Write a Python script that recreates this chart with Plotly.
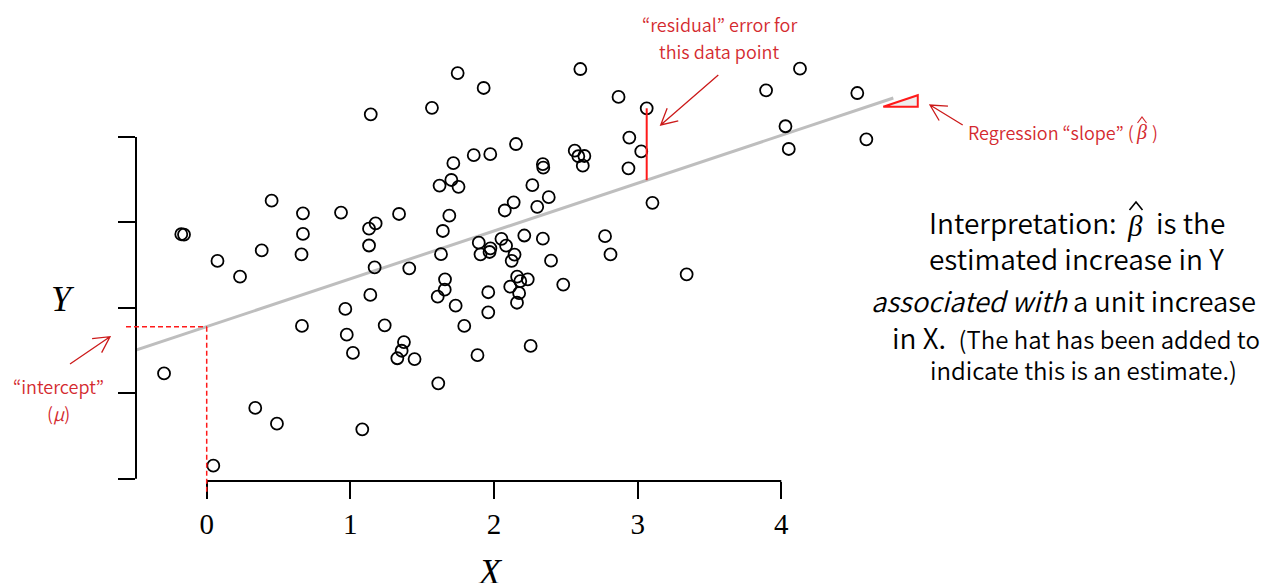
import math
import plotly.graph_objects as go

# ---------------- data ----------------
x_vals = [-0.297, -0.177, -0.158, 0.075, 0.232, 0.383, 0.452, 0.670, 0.670, 0.660,
          0.663, 0.935, 0.965, 0.975, 1.018, 1.130, 1.176, 1.130, 1.142, 1.169,
          1.139, 1.239, 1.339, 1.373, 1.357, 1.327, 1.410, 1.447, 0.046, 0.338,
          0.489, 1.083, 1.568, 1.608, 1.612, 1.621, 1.631, 1.644, 1.659, 1.657,
          1.689, 1.717, 1.703, 1.753, 1.733, 1.747, 1.793, 1.859, 1.885, 1.894,
          1.906, 1.928, 1.960, 1.960, 1.974, 1.975, 1.969, 2.052, 2.075, 2.084,
          2.113, 2.123, 2.143, 2.137, 2.153, 2.161, 2.160, 2.175, 2.183, 2.235,
          2.211, 2.255, 2.267, 2.301, 2.340, 2.343, 2.340, 2.381, 2.397, 2.482,
          2.562, 2.587, 2.629, 2.618, 2.601, 2.773, 2.811, 2.867, 2.936, 2.942,
          3.025, 3.063, 3.103, 3.341, 3.894, 4.029, 4.052, 4.130, 4.529, 4.592]
y_vals = [1.232, 2.862, 2.858, 2.549, 2.365, 2.672, 3.255, 3.107, 2.865, 2.625,
          1.788, 3.116, 1.987, 1.686, 1.472, 2.927, 2.988, 2.730, 4.266, 2.473,
          2.151, 1.796, 3.099, 1.600, 1.498, 1.410, 2.463, 1.401, 0.152, 0.828,
          0.644, 0.578, 4.342, 2.131, 1.117, 3.432, 2.628, 2.900, 2.334, 2.213,
          3.079, 3.694, 3.497, 3.417, 2.025, 4.749, 1.788, 3.787, 1.446, 2.763,
          2.627, 4.574, 2.183, 1.948, 3.799, 2.697, 2.654, 2.808, 3.140, 2.728,
          2.248, 2.551, 2.624, 3.236, 3.918, 2.365, 2.060, 2.172, 2.314, 2.334,
          2.847, 1.554, 3.436, 3.183, 3.682, 3.641, 2.810, 3.296, 2.552, 2.273,
          3.840, 3.775, 3.778, 3.664, 4.796, 2.839, 2.625, 4.469, 3.634, 3.994,
          3.831, 4.336, 3.230, 2.393, 4.547, 4.126, 3.860, 4.800, 4.515, 3.973]

x_ticks = [0, 1, 2, 3, 4]
x_tick_labels = ["0", "1", "2", "3", "4"]
y_ticks = [0, 1, 2, 3, 4]

intercept = 1.78
slope = 0.56
line_x_end = 4.78
residual_point = (3.063, 4.336)
slope_triangle_x = (4.71, 4.95)
slope_triangle_y0 = 4.355

# ---------------- layout geometry ----------------
W, H = 1280, 583
ML, MR, MT, MB = 136, 0, 0, 102
X_RANGE = [-0.4922, 7.4716]
Y_RANGE = [-0.0269, 5.604]
PW, PH = W - ML - MR, H - MT - MB


def P(px, py):
    """figure pixel -> paper coords"""
    return (px - ML) / PW, (H - MB - py) / PH


def dx2paper(x):
    return (x - X_RANGE[0]) / (X_RANGE[1] - X_RANGE[0])


def dy2paper(y):
    return (y - Y_RANGE[0]) / (Y_RANGE[1] - Y_RANGE[0])


RED_TXT = "#d42a2f"
RED_ARR = "#cc1a1a"
RED = "#ff1a1a"

fig = go.Figure()

# regression line
lx = [X_RANGE[0], line_x_end]
fig.add_trace(go.Scatter(x=lx, y=[intercept + slope * v for v in lx], mode="lines",
                         line=dict(color="#bebebe", width=3), hoverinfo="skip"))

# data points
fig.add_trace(go.Scatter(x=x_vals, y=y_vals, mode="markers",
                         marker=dict(symbol="circle-open", size=12, color="black",
                                     line=dict(width=1.8, color="black")),
                         hoverinfo="skip"))

shapes = []
# axis lines (R style: only between first and last tick)
shapes.append(dict(type="line", xref="paper", yref="y", x0=0, x1=0,
                   y0=y_ticks[0], y1=y_ticks[-1], line=dict(color="black", width=2)))
shapes.append(dict(type="line", xref="x", yref="paper", x0=x_ticks[0], x1=x_ticks[-1],
                   y0=0, y1=0, line=dict(color="black", width=2)))

# residual
rx, ry = residual_point
shapes.append(dict(type="line", xref="x", yref="y", x0=rx, x1=rx, y0=ry,
                   y1=intercept + slope * rx, line=dict(color=RED, width=2)))

# intercept dashed lines
shapes.append(dict(type="line", xref="x", yref="paper", x0=0, x1=0,
                   y0=dy2paper(intercept), y1=P(0, 493)[1],
                   line=dict(color=RED, width=1.5, dash="5px,3px")))
shapes.append(dict(type="line", xref="paper", yref="paper", x0=P(126, 0)[0],
                   x1=dx2paper(0), y0=dy2paper(intercept), y1=dy2paper(intercept),
                   line=dict(color=RED, width=1.5, dash="5px,3px")))

# slope triangle
tx0, tx1 = slope_triangle_x
ty1 = slope_triangle_y0 + slope * (tx1 - tx0)
shapes.append(dict(type="path", xref="x", yref="y",
                   path=f"M {tx0},{slope_triangle_y0} L {tx1},{slope_triangle_y0} L {tx1},{ty1} Z",
                   fillcolor="#eeeeee", line=dict(color=RED, width=2)))


def fp(p):
    q = P(*p)
    return f"{q[0]:.5f},{q[1]:.5f}"


def arrow(sx, sy, ex, ey, head=18, ang=28):
    ux, uy = ex - sx, ey - sy
    n = math.hypot(ux, uy)
    ux, uy = ux / n, uy / n
    pts = []
    for s in (1, -1):
        a = math.radians(ang * s)
        rx_ = ux * math.cos(a) - uy * math.sin(a)
        ry_ = ux * math.sin(a) + uy * math.cos(a)
        pts.append((ex - head * rx_, ey - head * ry_))
    path = f"M {fp((sx, sy))} L {fp((ex, ey))} M {fp(pts[0])} L {fp((ex, ey))} L {fp(pts[1])}"
    return dict(type="path", xref="paper", yref="paper", path=path,
                line=dict(color=RED_ARR, width=1.3))


def hat(cx, base_y, half_w, h, color, width):
    path = f"M {fp((cx - half_w, base_y))} L {fp((cx, base_y - h))} L {fp((cx + half_w, base_y))}"
    return dict(type="path", xref="paper", yref="paper", path=path,
                line=dict(color=color, width=width))


shapes.append(arrow(718.3, 75, 660.7, 125))
shapes.append(arrow(962.7, 125, 930, 105))
shapes.append(arrow(70, 364, 110, 336.7))

annotations = []
SANS = "Noto Sans CJK KR"
SERIF = "Liberation Serif"


def text(px, py, s, size, color="black", family=SANS, xanchor="center", weight=350):
    x, y = P(px, py)
    annotations.append(dict(x=x, y=y, xref="paper", yref="paper", text=s, showarrow=False,
                            xanchor=xanchor, yanchor="middle",
                            font=dict(size=size, color=color, family=family, weight=weight)))


text(63, 299, "<i>Y</i>", 36, family=SERIF, weight=400)
text(490, 572, "<i>X</i>", 36, family=SERIF, weight=400)

text(719, 24, "“residual” error for", 18, RED_TXT)
text(719, 51, "this data point", 18, RED_TXT)
text(966, 132, "Regression “slope” (", 18, RED_TXT, xanchor="left")
text(1141, 133, "<i>β</i>", 20, RED_TXT, family=SERIF, weight=400)
shapes.append(hat(1142, 123, 4.5, 6, RED_TXT, 1.2))
text(1150, 132, ")", 18, RED_TXT, xanchor="left")
text(58, 386, "“intercept”", 18, RED_TXT)
text(58, 413, "(<i>μ</i>)", 18, RED_TXT)

text(1119, 222, "Interpretation:", 28, xanchor="right")
text(1135, 226, "<i>β</i>", 29, family=SERIF, weight=400)
shapes.append(hat(1136, 210, 6.5, 8, "black", 1.6))
text(1154, 222, "is the", 28, xanchor="left")
text(1076, 258, "estimated increase in Y", 28)
text(1063, 300, "<i>associated with</i> a unit increase", 27.3)
text(1076, 337, "in X.&nbsp;&nbsp;<span style='font-size:24px'>(The hat has been added to</span>", 28)
text(1083, 369, "indicate this is an estimate.)", 24)

fig.update_layout(
    width=W, height=H, margin=dict(l=ML, r=MR, t=MT, b=MB, pad=0),
    paper_bgcolor="white", plot_bgcolor="white", showlegend=False,
    shapes=shapes, annotations=annotations,
    xaxis=dict(range=X_RANGE, tickvals=x_ticks, ticktext=x_tick_labels, ticks="outside",
               ticklen=17, tickwidth=2, tickcolor="black", showgrid=False, zeroline=False,
               showline=False, tickfont=dict(family=SERIF, size=29, color="black"),
               ticklabelstandoff=0),
    yaxis=dict(range=Y_RANGE, tickvals=y_ticks, showticklabels=False, ticks="outside",
               ticklen=17, tickwidth=2, tickcolor="black", showgrid=False, zeroline=False,
               showline=False),
)

fig.write_html("out.html", config={"displayModeBar": False},
               post_script="document.body.style.margin='0';document.body.style.overflow='hidden';")
